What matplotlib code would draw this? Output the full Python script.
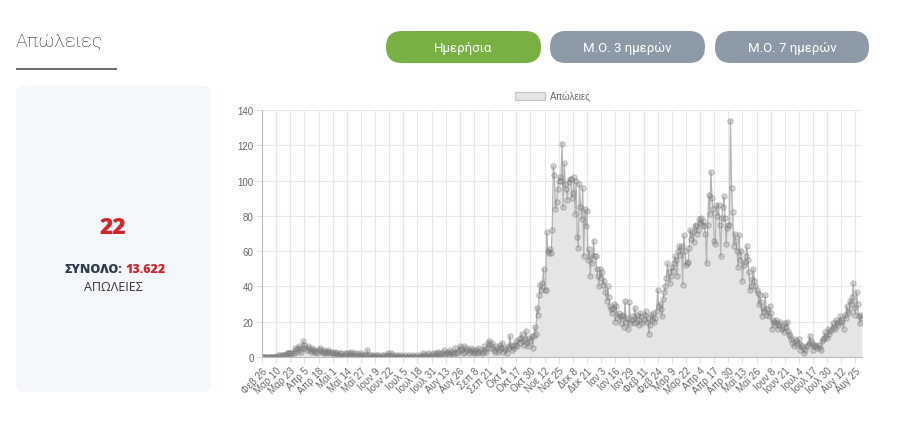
import numpy as np
import pandas as pd
import matplotlib
matplotlib.use("Agg")
import matplotlib.pyplot as plt
from matplotlib.patches import FancyBboxPatch

# Daily deaths, one list per month (26 Feb 2020 .. 31 Aug 2021)
feb20 = [0, 0, 0, 0]
mar20 = [0, 0, 0, 0, 0, 0, 0, 0, 0, 0, 0, 1, 0, 1, 1, 1, 0, 1, 1, 2,
         2, 2, 2, 2, 2, 2, 5, 4, 3, 5, 6]
apr20 = [4, 3, 5, 9, 7, 5, 4, 6, 5, 4, 3, 5, 4, 3, 4, 3, 2, 4, 5, 4,
         3, 2, 4, 3, 2, 3, 4, 3, 2, 3]
may20 = [2, 1, 3, 2, 1, 1, 2, 1, 2, 0, 1, 2, 1, 2, 0, 1, 2, 3, 1, 0,
         2, 1, 2, 1, 0, 1, 2, 1, 0, 1, 0]
jun20 = [1, 4, 1, 0, 1, 0, 1, 0, 0, 1, 0, 1, 0, 0, 1, 0, 1, 0, 0, 1,
         2, 1, 0, 2, 1, 0, 1, 0, 0, 1]
jul20 = [0, 0, 1, 0, 0, 0, 1, 0, 0, 1, 0, 0, 0, 1, 0, 0, 0, 1, 0, 0,
         1, 0, 2, 1, 0, 1, 0, 2, 1, 0, 1]
aug20 = [2, 1, 0, 2, 1, 3, 2, 1, 0, 2, 4, 1, 2, 3, 2, 1, 4, 2, 3, 1,
         2, 5, 2, 3, 4, 6, 5, 4, 2, 6, 3]
sep20 = [5, 4, 2, 4, 5, 3, 4, 2, 3, 4, 2, 5, 3, 4, 2, 3, 6, 4, 3, 5,
         8, 9, 7, 5, 8, 4, 3, 6, 5, 3]
oct20 = [4, 7, 5, 8, 3, 5, 4, 2, 6, 5, 12, 7, 4, 6, 5, 7, 9, 6, 10, 8,
         11, 13, 9, 7, 10, 15, 8, 6, 11, 9, 12]
nov20 = [5, 12, 17, 13, 28, 24, 35, 41, 38, 42, 50, 38, 38, 71, 60, 59, 61, 59, 72, 108,
         103, 84, 88, 95, 100, 102, 100, 121, 85, 110]
dec20 = [98, 95, 89, 99, 101, 101, 90, 93, 102, 81, 100, 68, 62, 98, 85, 78, 96, 57, 84, 74,
         83, 55, 61, 46, 58, 53, 66, 57, 57, 50, 46]
jan21 = [40, 50, 45, 48, 41, 43, 37, 32, 40, 34, 29, 27, 25, 28, 30, 20, 29, 22, 25, 23,
         19, 24, 23, 17, 32, 20, 22, 16, 31, 19, 21]
feb21 = [23, 19, 28, 20, 24, 21, 18, 25, 23, 19, 21, 24, 26, 20, 22, 13, 18, 24, 21, 25,
         20, 22, 26, 38, 29, 30, 27, 23]
mar21 = [33, 37, 40, 45, 53, 48, 42, 46, 51, 49, 53, 57, 55, 46, 60, 63, 58, 63, 41, 69,
         60, 52, 53, 54, 62, 72, 67, 71, 65, 74, 75]
apr21 = [70, 72, 78, 76, 79, 75, 77, 74, 70, 53, 75, 92, 81, 105, 90, 84, 66, 64, 86, 80,
         86, 75, 57, 79, 85, 91, 79, 64, 73, 75]
may21 = [75, 134, 96, 82, 63, 70, 66, 60, 51, 69, 55, 60, 43, 52, 54, 57, 63, 55, 48, 38,
         40, 44, 50, 43, 40, 38, 36, 30, 35, 31, 23]
jun21 = [28, 26, 35, 24, 27, 23, 29, 25, 16, 21, 20, 18, 21, 19, 16, 18, 20, 16, 17, 14,
         19, 17, 20, 15, 13, 12, 10, 8, 6, 10]
jul21 = [9, 7, 8, 10, 4, 7, 6, 5, 2, 4, 6, 7, 8, 12, 9, 8, 4, 6, 7, 6,
         5, 7, 5, 4, 9, 10, 11, 14, 12, 11, 16]
aug21 = [13, 15, 16, 19, 17, 16, 21, 19, 18, 20, 23, 21, 20, 16, 24, 22, 29, 26, 25, 32,
         30, 34, 42, 28, 24, 37, 30, 23, 19, 24, 22]

daily = (feb20 + mar20 + apr20 + may20 + jun20 + jul20 + aug20 + sep20 + oct20
         + nov20 + dec20 + jan21 + feb21 + mar21 + apr21 + may21 + jun21 + jul21 + aug21)
total_deaths = "13.622"
start_date = "2020-02-26"
months_gr = ["Ιαν", "Φεβ", "Μαρ", "Απρ", "Μαΐ", "Ιουν",
             "Ιουλ", "Αυγ", "Σεπ", "Οκτ", "Νοε", "Δεκ"]
buttons = ["Ημερήσια", "Μ.Ο. 3 ημερών", "Μ.Ο. 7 ημερών"]

dates = pd.date_range(start_date, periods=len(daily), freq="D")
x = np.arange(len(daily))
tick_idx = x[::13]
tick_labels = [f"{months_gr[dates[i].month - 1]} {dates[i].day}" for i in tick_idx]

fig = plt.figure(figsize=(9, 4.27), dpi=100)
fig.patch.set_facecolor("white")

# page decoration in pixel coordinates
bg = fig.add_axes([0, 0, 1, 1])
bg.set_xlim(0, 900)
bg.set_ylim(427, 0)
bg.axis("off")

bg.text(16, 42, "Απώλειες", fontsize=14, family="Roboto", weight="light",
        color="#222222", va="center", ha="left")
bg.plot([16, 117], [70, 70], color="#555555", lw=1.2, solid_capstyle="butt")

bg.add_patch(FancyBboxPatch((16, 87), 195, 306, boxstyle="round,pad=0,rounding_size=8",
                            fc="#f4f7fb", ec="none"))
bg.text(113, 228, str(daily[-1]), fontsize=16.5, family="Open Sans", weight="heavy",
        color="#d0262b", ha="center", va="center")
bg.text(122, 270, "ΣΥΝΟΛΟ:", fontsize=9, family="Open Sans", weight="heavy",
        color="#2e3a4d", ha="right", va="center")
bg.text(125, 270, total_deaths, fontsize=9, family="Open Sans", weight="heavy",
        color="#d0262b", ha="left", va="center")
bg.text(113, 288, "ΑΠΩΛΕΙΕΣ", fontsize=9, family="Open Sans",
        color="#333333", ha="center", va="center")

btn_x = [386, 550, 715]
btn_w = [155, 155, 154]
btn_c = ["#78b043", "#8c99a6", "#8c99a6"]
for bx, bw, bc, label in zip(btn_x, btn_w, btn_c, buttons):
    bg.add_patch(FancyBboxPatch((bx, 32), bw, 32, boxstyle="round,pad=0,rounding_size=16",
                                fc=bc, ec="none"))
    bg.text(bx + bw / 2, 48.5, label, fontsize=9.5, family="Roboto",
            color="white", ha="center", va="center")

# legend
bg.add_patch(plt.Rectangle((515, 93), 30, 8, fc="#e4e4e4", ec="#c4c4c4", lw=0.8))
bg.text(550, 97, "Απώλειες", fontsize=7, family="Liberation Sans", color="#666666",
        ha="left", va="center")

# chart
ax = fig.add_axes([262 / 900, 1 - 358 / 427, 600 / 900, 247 / 427])
ax.fill_between(x, daily, color="#e5e5e5", lw=0, zorder=1)
ax.plot(x, daily, color="#b4b4b4", lw=0.9, zorder=2,
        marker="o", ms=3.8, mfc=(0.55, 0.55, 0.55, 0.3), mec=(0.45, 0.45, 0.45, 0.4), mew=0.8)
ax.set_xlim(0, len(daily) - 1)
ax.set_ylim(0, 140)
ax.set_yticks(range(0, 141, 20))
ax.set_xticks(tick_idx)
ax.set_xticklabels(tick_labels, rotation=45, ha="right", rotation_mode="anchor")
ax.grid(True, color="#e6e6e6", lw=0.8, zorder=0)
ax.set_axisbelow(True)
for s in ["top", "right"]:
    ax.spines[s].set_visible(False)
for s in ["left", "bottom"]:
    ax.spines[s].set_color("#bdbdbd")
    ax.spines[s].set_linewidth(0.8)
ax.tick_params(axis="both", length=4, color="#e0e0e0", labelsize=7, labelcolor="#666666", pad=2)
for lab in ax.get_xticklabels() + ax.get_yticklabels():
    lab.set_family("Liberation Sans")

fig.savefig("out.png", dpi=100)
